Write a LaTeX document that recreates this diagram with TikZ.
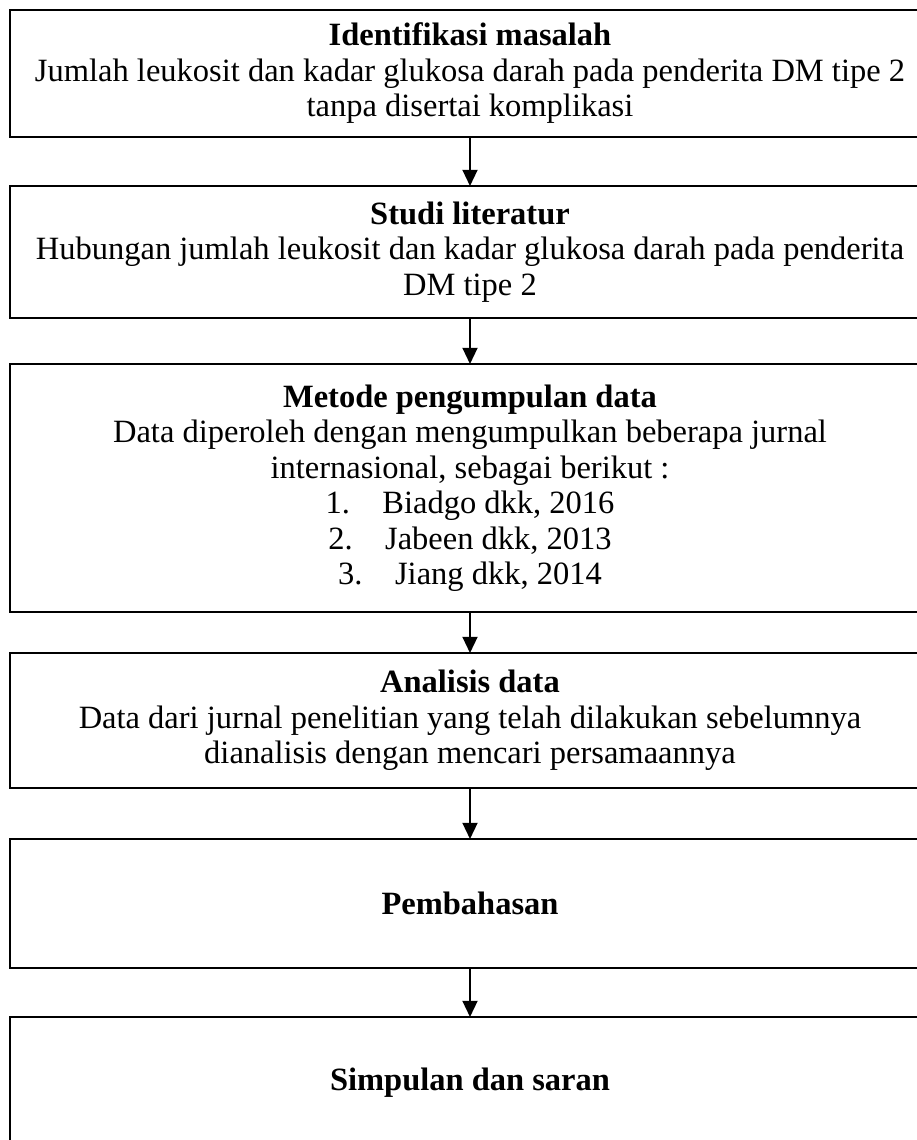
\documentclass[tikz,border=0pt]{standalone}
\usepackage{fontspec}
\setmainfont{Liberation Serif}
\usetikzlibrary{arrows.meta}
\tikzset{
	tahap/.style={draw, line width=1.1pt, outer sep=0, minimum width=368pt,
		align=center, font=\fontsize{13}{14.2}\selectfont},
}

\begin{document}
\begin{tikzpicture}[->,>={Triangle[width=6pt,length=6.5pt]},line width=0.8pt,
				x=0.4pt, y=-0.4pt]
				\useasboundingbox (0,0) rectangle (916,1140);
				\node[tahap, minimum height=50.8pt] (t1) at (470, 73.5) {\textbf{Identifikasi masalah}\\ Jumlah leukosit dan kadar glukosa darah pada penderita DM tipe 2\\ tanpa disertai komplikasi};
				\node[tahap, minimum height=52.8pt] (t2) at (470, 252) {\textbf{Studi literatur}\\ Hubungan jumlah leukosit dan kadar glukosa darah pada penderita\\ DM tipe 2};
				\node[tahap, minimum height=99.2pt] (t3) at (470, 488) {\textbf{Metode pengumpulan data}\\ Data diperoleh dengan mengumpulkan beberapa jurnal\\ internasional, sebagai berikut :\\
					1.\hspace{1em}Biadgo dkk, 2016\\
					2.\hspace{1em}Jabeen dkk, 2013\\
					3.\hspace{1em}Jiang dkk, 2014};
				\node[tahap, minimum height=54pt] (t4) at (470, 720.5) {\textbf{Analisis data}\\ Data dari jurnal penelitian yang telah dilakukan sebelumnya\\ dianalisis dengan mencari persamaannya};
				\node[tahap, minimum height=51.6pt] (t5) at (470, 903.5) {\textbf{Pembahasan}};
				\node[tahap, minimum height=52.8pt] (t6) at (470, 1083) {\textbf{Simpulan dan saran}};
				
				\path (t1.south) edge (t2.north);
				\path (t2.south) edge (t3.north);
				\path (t3.south) edge (t4.north);
				\path (t4.south) edge (t5.north);
				\path (t5.south) edge (t6.north);
			\end{tikzpicture}
\end{document}
